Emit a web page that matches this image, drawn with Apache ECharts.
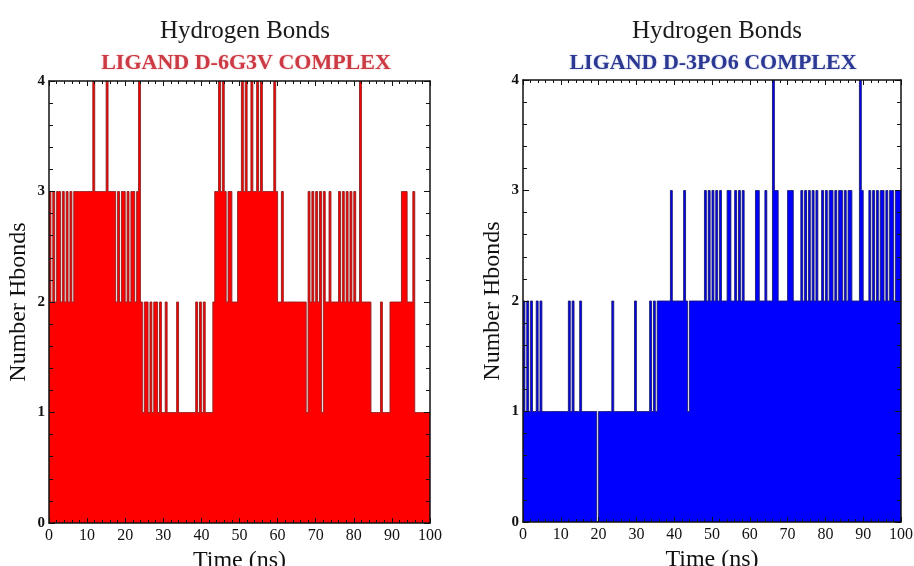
<!DOCTYPE html>
<html>
<head>
<meta charset="utf-8">
<script src="https://cdn.jsdelivr.net/npm/echarts@6/dist/echarts.min.js"></script>
<style>
html,body{margin:0;padding:0;background:#fff;overflow:hidden;}
#chart{width:914px;height:566px;}
</style>
</head>
<body>
<div id="chart"></div>
<script>
// Sampling interval of the time series (ns)
const sampleStep = 0.5;

// Hydrogen bond counts, LIGAND D-6G3V COMPLEX (one row = 10 ns)
const hbonds6G3V = [
  3,2,3,2,3,3,2,3,2,3,2,3,2,3,3,3,3,3,3,3,
  3,3,3,4,3,3,3,3,3,3,4,3,3,3,3,2,3,2,3,3,
  2,3,2,3,3,2,3,4,2,1,2,2,1,2,1,2,2,1,2,1,
  1,2,1,1,1,1,1,2,1,1,1,1,1,1,1,1,1,2,1,2,
  1,2,1,1,1,1,2,3,3,4,3,4,3,2,3,3,2,2,2,3,
  3,4,3,4,3,3,4,3,3,4,3,4,3,3,3,3,3,3,4,3,
  2,2,3,2,2,2,2,2,2,2,2,2,2,2,2,1,3,2,3,2,
  3,2,3,1,3,2,2,3,2,2,2,2,3,2,3,2,3,2,3,2,
  3,2,2,4,2,2,2,2,2,1,1,1,1,1,2,1,1,1,1,2,
  2,2,2,2,2,3,3,3,2,2,2,3,1,1,1,1,1,1,1,1,
  1
];

// Hydrogen bond counts, LIGAND D-3PO6 COMPLEX (one row = 10 ns)
const hbonds3PO6 = [
  2,1,2,1,2,1,1,2,1,2,1,1,1,1,1,1,1,1,1,1,
  1,1,1,1,2,1,2,1,1,1,2,1,1,1,1,1,1,1,1,0,
  1,1,1,1,1,1,1,2,1,1,1,1,1,1,1,1,1,1,1,2,
  1,1,1,1,1,1,1,2,1,2,1,2,2,2,2,2,2,2,3,2,
  2,2,2,2,2,3,2,1,2,2,2,2,2,2,2,2,3,2,3,2,
  3,2,3,2,3,2,2,2,3,3,2,2,3,2,3,2,3,2,2,2,
  2,2,2,3,3,2,2,2,3,2,2,2,4,3,3,2,2,2,2,2,
  3,3,3,2,2,2,2,3,2,3,2,3,2,3,2,3,2,2,3,2,
  3,2,3,3,2,3,2,3,3,2,3,2,3,3,2,2,2,2,4,3,
  2,2,2,3,2,3,2,3,2,3,3,2,3,2,3,3,2,3,3,3,
  3
];

const mainTitle = 'Hydrogen Bonds';
const subTitles = ['LIGAND D-6G3V COMPLEX', 'LIGAND D-3PO6 COMPLEX'];
const xAxisName = 'Time (ns)';
const yAxisName = 'Number Hbonds';
const xTicks = [0, 100, 10];   // min, max, interval
const yTicks = [0, 4, 1];

const toPairs = vals => vals.map((v, i) => [i * sampleStep, v]);

// Step-area renderer: the whole trace is built once (on the first item)
// as one filled polygon plus its outline, positioned with api.coord.
function stepRenderer(vals, fill, stroke) {
  return function (params, api) {
    if (params.dataIndex !== 0) return null;
    const steps = [];
    const n = vals.length;
    for (let i = 0; i < n; i++) {
      const t0 = i * sampleStep;
      const t1 = i < n - 1 ? (i + 1) * sampleStep : t0;
      steps.push(api.coord([t0, vals[i]]));
      if (t1 > t0) steps.push(api.coord([t1, vals[i]]));
    }
    const first = api.coord([0, 0]);
    const last = api.coord([(n - 1) * sampleStep, 0]);
    const poly = [first].concat(steps, [last]);
    return {
      type: 'group',
      children: [
        {type: 'polygon', shape: {points: poly}, style: {fill: fill, stroke: null}},
        {type: 'polyline', shape: {points: steps},
         style: {fill: null, stroke: stroke, lineWidth: 0.9}}
      ]
    };
  };
}

const serif = '"Liberation Serif", "DejaVu Serif", serif';
const grids = [
  {left: 49, right: 484, top: 81, bottom: 43, outerBoundsMode: 'none', containLabel: false},
  {left: 523, right: 13, top: 80, bottom: 44, outerBoundsMode: 'none', containLabel: false}
];

const chart = echarts.init(document.getElementById('chart'), null, {renderer: 'canvas'});

const xAxes = [], yAxes = [];
grids.forEach((g, gi) => {
  xAxes.push({
    type: 'value', gridIndex: gi, min: xTicks[0], max: xTicks[1], interval: xTicks[2],
    position: 'bottom', z: 5,
    name: xAxisName, nameLocation: 'middle', nameGap: 25,
    nameTextStyle: {fontFamily: serif, fontSize: 24, color: '#111'},
    axisLine: {show: true, onZero: false, lineStyle: {color: '#111', width: 1.5}},
    axisTick: {show: true, inside: true, length: 5, lineStyle: {color: '#111', width: 1}},
    minorTick: {show: true, splitNumber: 5, length: 3, lineStyle: {color: '#111', width: 1}},
    axisLabel: {fontFamily: serif, fontSize: 16, color: '#111', margin: 5},
    splitLine: {show: false}
  });
  xAxes.push({
    type: 'value', gridIndex: gi, min: xTicks[0], max: xTicks[1], interval: xTicks[2],
    position: 'top', z: 5,
    axisLine: {show: true, onZero: false, lineStyle: {color: '#111', width: 1.5}},
    axisTick: {show: true, inside: true, length: 5, lineStyle: {color: '#111', width: 1}},
    minorTick: {show: true, splitNumber: 5, length: 3, lineStyle: {color: '#111', width: 1}},
    axisLabel: {show: false},
    splitLine: {show: false}
  });
  yAxes.push({
    type: 'value', gridIndex: gi, min: yTicks[0], max: yTicks[1], interval: yTicks[2],
    position: 'left', z: 5,
    name: yAxisName, nameLocation: 'middle', nameGap: 18, nameRotate: 90,
    nameTextStyle: {fontFamily: serif, fontSize: 24, color: '#111'},
    axisLine: {show: true, onZero: false, lineStyle: {color: '#111', width: 1.5}},
    axisTick: {show: true, inside: true, length: 6, lineStyle: {color: '#111', width: 1}},
    minorTick: {show: true, splitNumber: 5, length: 4, lineStyle: {color: '#111', width: 1}},
    axisLabel: {fontFamily: serif, fontSize: 15, fontWeight: 'bold', color: '#111', margin: 4},
    splitLine: {show: false}
  });
  yAxes.push({
    type: 'value', gridIndex: gi, min: yTicks[0], max: yTicks[1], interval: yTicks[2],
    position: 'right', z: 5,
    axisLine: {show: true, onZero: false, lineStyle: {color: '#111', width: 1.5}},
    axisTick: {show: true, inside: true, length: 6, lineStyle: {color: '#111', width: 1}},
    minorTick: {show: true, splitNumber: 5, length: 4, lineStyle: {color: '#111', width: 1}},
    axisLabel: {show: false},
    splitLine: {show: false}
  });
});

const option = {
  backgroundColor: '#fff',
  animation: false,
  title: [
    {text: mainTitle, left: 240, top: 14, textAlign: 'center',
     textStyle: {fontFamily: serif, fontSize: 25, fontWeight: 'normal', color: '#1a1a1a'}},
    {text: subTitles[0], left: 241, top: 47, textAlign: 'center',
     textStyle: {fontFamily: serif, fontSize: 22, fontWeight: 'bold', color: '#cc3a44',
                 textShadowColor: 'rgba(200,50,60,0.35)', textShadowBlur: 2}},
    {text: mainTitle, left: 712, top: 14, textAlign: 'center',
     textStyle: {fontFamily: serif, fontSize: 25, fontWeight: 'normal', color: '#1a1a1a'}},
    {text: subTitles[1], left: 708, top: 47, textAlign: 'center',
     textStyle: {fontFamily: serif, fontSize: 22, fontWeight: 'bold', color: '#2b3994',
                 textShadowColor: 'rgba(43,57,148,0.35)', textShadowBlur: 2}}
  ],
  grid: grids,
  xAxis: xAxes,
  yAxis: yAxes,
  series: [
    {
      type: 'custom', coordinateSystem: 'cartesian2d', xAxisIndex: 0, yAxisIndex: 0,
      data: toPairs(hbonds6G3V), encode: {x: 0, y: 1}, clip: true, z: 1,
      renderItem: stepRenderer(hbonds6G3V, '#ff0000', '#8e1f1f')
    },
    {
      type: 'custom', coordinateSystem: 'cartesian2d', xAxisIndex: 2, yAxisIndex: 2,
      data: toPairs(hbonds3PO6), encode: {x: 0, y: 1}, clip: true, z: 1,
      renderItem: stepRenderer(hbonds3PO6, '#0000ff', '#1a1a72')
    }
  ]
};
chart.setOption(option);
</script>
</body>
</html>
